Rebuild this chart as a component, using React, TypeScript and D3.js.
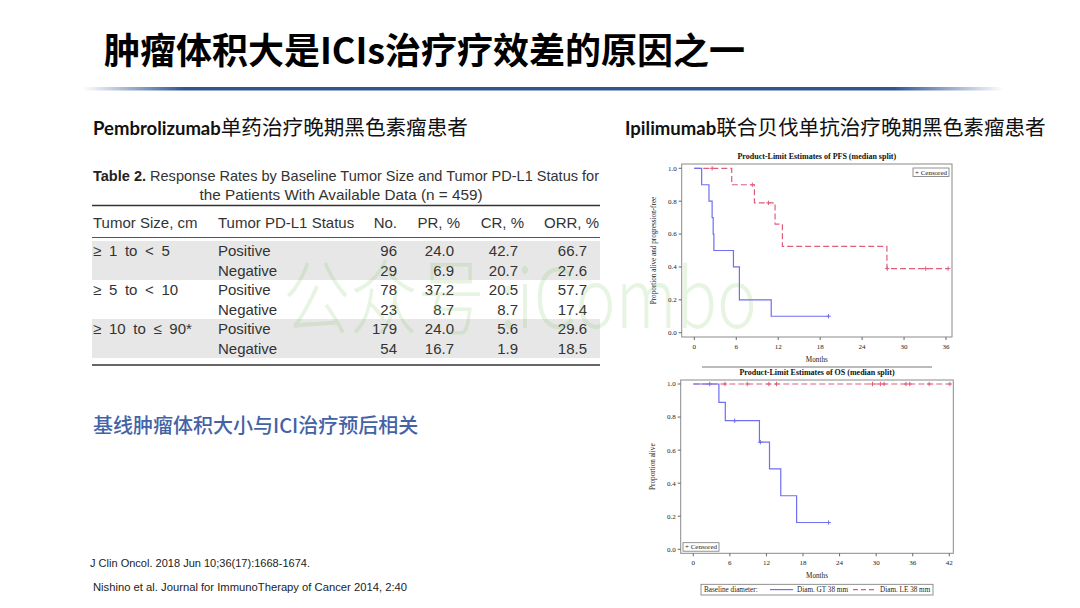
import React from 'react';
import * as d3 from 'd3';

// ---------- DATA ----------
const tableSizes = ['≥ 1 to < 5', '', '≥ 5 to < 10', '', '≥ 10 to ≤ 90*', ''];
const tableStatus = ['Positive', 'Negative', 'Positive', 'Negative', 'Positive', 'Negative'];
const tableNo = [96, 29, 78, 23, 179, 54];
const tablePR = [24.0, 6.9, 37.2, 8.7, 24.0, 16.7];
const tableCR = [42.7, 20.7, 20.5, 8.7, 5.6, 1.9];
const tableORR = [66.7, 27.6, 57.7, 17.4, 29.6, 18.5];
const tableHeaders = ['Tumor Size, cm', 'Tumor PD-L1 Status', 'No.', 'PR, %', 'CR, %', 'ORR, %'];

const pfsMonthTicks = [0, 6, 12, 18, 24, 30, 36];
const osMonthTicks = [0, 6, 12, 18, 24, 30, 36, 42];
const propTicks = [0, 0.2, 0.4, 0.6, 0.8, 1.0];

// PFS, Diam. GT 38 mm
const pfsGtTimes = [0, 1.05, 2.1, 2.55, 2.7, 2.8, 5.6, 6.45, 11.0, 19.2];
const pfsGtSurv = [1.0, 0.9, 0.8, 0.7, 0.6, 0.5, 0.4, 0.2, 0.1, 0.1];
const pfsGtCensor = [19.2];
// PFS, Diam. LE 38 mm
const pfsLeTimes = [0, 5.35, 8.6, 11.55, 12.6, 27.55, 36.3];
const pfsLeSurv = [1.0, 0.9, 0.79, 0.66, 0.525, 0.39, 0.39];
const pfsLeCensor = [2.55, 8.3, 10.6, 27.6, 33.1, 36.3];
// OS, Diam. GT 38 mm
const osGtTimes = [0, 4.2, 5.25, 10.85, 12.5, 14.35, 16.95, 22.2];
const osGtSurv = [1.0, 0.889, 0.778, 0.648, 0.486, 0.324, 0.162, 0.162];
const osGtCensor = [2.7, 6.8, 11.0, 22.2];
// OS, Diam. LE 38 mm
const osLeTimes = [0, 42.1];
const osLeSurv = [1.0, 1.0];
const osLeCensor = [5.2, 8.85, 12.4, 13.65, 29.4, 30.7, 31.3, 34.9, 35.5, 38.7, 42.1];

// ---------- STYLE ----------
const SERIF = "'Liberation Serif', 'DejaVu Serif', serif";
const SANS = "'Liberation Sans', Arial, sans-serif";
const CJK = "'Noto Sans CJK SC', sans-serif";
const LATIN = "Lato, 'Open Sans', sans-serif";
const BLUE = '#6f6ff0';
const RED = '#de5f7c';

function survAt(times: number[], surv: number[], t: number) {
  let s = surv[0];
  for (let i = 0; i < times.length; i++) if (times[i] <= t + 1e-9) s = surv[i];
  return s;
}

type Series = { times: number[]; surv: number[]; censor: number[]; color: string; dash?: string };

function KMPanel(props: {
  title: string; titleY: number; yLabel: string; yLabelX: number;
  frame: { l: number; t: number; r: number; b: number };
  xDomainMax: number; xRange: [number, number]; yRange: [number, number];
  xTicks: number[]; series: Series[];
  censorBox: { x: number; y: number };
}) {
  const { frame } = props;
  const xs = d3.scaleLinear().domain([0, props.xDomainMax]).range(props.xRange);
  const ys = d3.scaleLinear().domain([0, 1]).range(props.yRange);
  const line = d3.line<[number, number]>().x(d => xs(d[0])).y(d => ys(d[1])).curve(d3.curveStepAfter);
  const fmt = d3.format('.1f');
  return (
    <g>
      <text x={(frame.l + frame.r) / 2} y={props.titleY} textAnchor="middle" fontFamily={SERIF} fontWeight={700} fontSize={8} fill="#111">{props.title}</text>
      <rect x={frame.l} y={frame.t} width={frame.r - frame.l} height={frame.b - frame.t} fill="none" stroke="#8a8a8a" strokeWidth={1} />
      {propTicks.map(v => (
        <g key={'y' + v}>
          <line x1={frame.l - 3} x2={frame.l} y1={ys(v)} y2={ys(v)} stroke="#666" />
          <text x={frame.l - 5} y={ys(v) + 2.4} textAnchor="end" fontFamily={SERIF} fontSize={7} fill="#222">{fmt(v)}</text>
        </g>
      ))}
      {props.xTicks.map(v => (
        <g key={'x' + v}>
          <line x1={xs(v)} x2={xs(v)} y1={frame.b} y2={frame.b + 3} stroke="#666" />
          <text x={xs(v)} y={frame.b + 11.5} textAnchor="middle" fontFamily={SERIF} fontSize={7} fill="#222">{v}</text>
        </g>
      ))}
      <text x={(frame.l + frame.r) / 2} y={frame.b + 25} textAnchor="middle" fontFamily={SERIF} fontSize={7.2} fill="#222">Months</text>
      <text transform={`translate(${props.yLabelX},${(frame.t + frame.b) / 2}) rotate(-90)`} textAnchor="middle" fontFamily={SERIF} fontSize={7.2} fill="#222">{props.yLabel}</text>
      {props.series.map((s, i) => {
        const pts = s.times.map((t, j) => [t, s.surv[j]] as [number, number]);
        return (
          <g key={'s' + i}>
            <path d={line(pts) || ''} fill="none" stroke={s.color} strokeWidth={1.2} strokeDasharray={s.dash} />
            {s.censor.map((t, j) => {
              const cx = xs(t), cy = ys(survAt(s.times, s.surv, t));
              return <path key={j} d={`M${cx - 2.2},${cy}h4.4M${cx},${cy - 2.2}v4.4`} stroke={s.color} strokeWidth={1} />;
            })}
          </g>
        );
      })}
      <rect x={props.censorBox.x} y={props.censorBox.y} width={36} height={8.5} fill="#fff" stroke="#777" strokeWidth={0.8} />
      <text x={props.censorBox.x + 2} y={props.censorBox.y + 6.6} fontFamily={SERIF} fontSize={6.8} fill="#222" textLength={32} lengthAdjust="spacingAndGlyphs">+ Censored</text>
    </g>
  );
}

export default function App() {
  const rowY = d3.scaleLinear().domain([0, 5]).range([256, 353.5]);
  const f1 = d3.format('.1f');
  const tL = 92, tR = 600;
  const colX = [93, 218, 397, 460, 524, 599];
  const valX = [397, 454, 518, 587];
  const TF = 15;
  return (
    <svg width={1080} height={608} style={{ position: 'absolute', left: 0, top: 0, background: '#fff' }}>
      <defs>
        <linearGradient id="ul" x1="0" x2="1" y1="0" y2="0">
          <stop offset="0" stopColor="#2f5597" stopOpacity={0} />
          <stop offset="0.11" stopColor="#2f5597" stopOpacity={1} />
          <stop offset="0.88" stopColor="#2f5597" stopOpacity={1} />
          <stop offset="1" stopColor="#2f5597" stopOpacity={0} />
        </linearGradient>
      </defs>
      <rect width={1080} height={608} fill="#fff" />

      {/* Title */}
      <text x={104} y={64} fontFamily={CJK} fontWeight={700} fontSize={36} fill="#000" textLength={641} lengthAdjust="spacingAndGlyphs">肿瘤体积大是ICIs治疗疗效差的原因之一</text>
      <rect x={83} y={87} width={921} height={3.5} fill="url(#ul)" />

      {/* Headings */}
      <text x={93} y={135} fill="#111">
        <tspan fontFamily={LATIN} fontWeight={700} fontSize={18.5}>Pembrolizumab</tspan>
        <tspan fontFamily={CJK} fontSize={20.6}>单药治疗晚期黑色素瘤患者</tspan>
      </text>
      <text x={625} y={135} fill="#111">
        <tspan fontFamily={LATIN} fontWeight={700} fontSize={18.5}>Ipilimumab</tspan>
        <tspan fontFamily={CJK} fontSize={20.6}>联合贝伐单抗治疗晚期黑色素瘤患者</tspan>
      </text>
      <text x={93} y={433} fontFamily={CJK} fontWeight={500} fontSize={20} fill="#4462a6">基线肿瘤体积大小与ICI治疗预后相关</text>

      {/* Table */}
      <text x={93} y={181} fontFamily={SANS} fontSize={TF} fill="#333" textLength={506} lengthAdjust="spacingAndGlyphs">
        <tspan fontWeight={700} fill="#222">Table 2.</tspan>
        <tspan> Response Rates by Baseline Tumor Size and Tumor PD-L1 Status for</tspan>
      </text>
      <text x={341} y={199.5} textAnchor="middle" fontFamily={SANS} fontSize={TF} fill="#333" textLength={283} lengthAdjust="spacingAndGlyphs">the Patients With Available Data (n = 459)</text>
      <line x1={tL} x2={tR} y1={205.5} y2={205.5} stroke="#333" strokeWidth={1.5} />
      {tableHeaders.map((h, i) => (
        <text key={h} x={colX[i]} y={227.5} textAnchor={i < 2 ? 'start' : 'end'} fontFamily={SANS} fontSize={TF} fill="#333">{h}</text>
      ))}
      <line x1={tL} x2={tR} y1={237.5} y2={237.5} stroke="#555" strokeWidth={1} />
      {[0, 4].map(r => (
        <rect key={'band' + r} x={tL} y={rowY(r) - 15} width={tR - tL} height={39} fill="#e7e7e7" />
      ))}
      {tableStatus.map((s, i) => (
        <g key={'row' + i} fontFamily={SANS} fontSize={TF} fill="#333">
          {tableSizes[i] ? (
            <text x={colX[0]} y={rowY(i)} wordSpacing={3.5}>{tableSizes[i]}</text>
          ) : null}
          <text x={colX[1]} y={rowY(i)}>{s}</text>
          <text x={valX[0]} y={rowY(i)} textAnchor="end">{tableNo[i]}</text>
          <text x={valX[1]} y={rowY(i)} textAnchor="end">{f1(tablePR[i])}</text>
          <text x={valX[2]} y={rowY(i)} textAnchor="end">{f1(tableCR[i])}</text>
          <text x={valX[3]} y={rowY(i)} textAnchor="end">{f1(tableORR[i])}</text>
        </g>
      ))}
      <line x1={tL} x2={tR} y1={365} y2={365} stroke="#333" strokeWidth={1.5} />

      {/* Footnotes */}
      <text x={90} y={567} fontFamily={SANS} fontSize={10.5} fill="#222" textLength={220} lengthAdjust="spacingAndGlyphs">J Clin Oncol. 2018 Jun 10;36(17):1668-1674.</text>
      <text x={93} y={591} fontFamily={SANS} fontSize={10.5} fill="#222" textLength={314} lengthAdjust="spacingAndGlyphs">Nishino et al. Journal for ImmunoTherapy of Cancer 2014, 2:40</text>

      {/* PFS chart */}
      <KMPanel
        title="Product-Limit Estimates of PFS (median split)" titleY={158.5}
        yLabel="Proportion alive and progression-free" yLabelX={656}
        frame={{ l: 681.7, t: 164, r: 952, b: 337 }}
        xDomainMax={36} xRange={[694.3, 946]} yRange={[332.7, 168.3]}
        xTicks={pfsMonthTicks}
        series={[
          { times: pfsLeTimes, surv: pfsLeSurv, censor: pfsLeCensor, color: RED, dash: '6,3' },
          { times: pfsGtTimes, surv: pfsGtSurv, censor: pfsGtCensor, color: BLUE },
        ]}
        censorBox={{ x: 913, y: 168 }}
      />
      <line x1={702} x2={932} y1={367} y2={367} stroke="#777" strokeWidth={1} />

      {/* OS chart */}
      <KMPanel
        title="Product-Limit Estimates of OS (median split)" titleY={374.5}
        yLabel="Proportion alive" yLabelX={655}
        frame={{ l: 680.7, t: 380, r: 953.3, b: 553.3 }}
        xDomainMax={42} xRange={[693.3, 949.3]} yRange={[549.3, 384]}
        xTicks={osMonthTicks}
        series={[
          { times: osLeTimes, surv: osLeSurv, censor: osLeCensor, color: RED, dash: '6,3' },
          { times: osGtTimes, surv: osGtSurv, censor: osGtCensor, color: BLUE },
        ]}
        censorBox={{ x: 683, y: 542.7 }}
      />

      {/* Bottom legend */}
      <rect x={701} y={584.3} width={232} height={10.7} fill="#fff" stroke="#777" strokeWidth={0.8} />
      <text x={704} y={592.3} fontFamily={SERIF} fontSize={7.2} fill="#222">Baseline diameter:</text>
      <line x1={770} x2={793} y1={589.6} y2={589.6} stroke={BLUE} strokeWidth={1.2} />
      <text x={797} y={592.3} fontFamily={SERIF} fontSize={7.2} fill="#222">Diam. GT 38 mm</text>
      <line x1={853} x2={877} y1={589.6} y2={589.6} stroke={RED} strokeWidth={1.2} strokeDasharray="5,3" />
      <text x={880} y={592.3} fontFamily={SERIF} fontSize={7.2} fill="#222">Diam. LE 38 mm</text>

      {/* Watermark */}
      <text x={283} y={328} fontFamily={CJK} fontWeight={300} fontSize={82} fill="#7cc25a" fillOpacity={0.18} textLength={474} lengthAdjust="spacingAndGlyphs">公众号 :iCombo</text>
    </svg>
  );
}
